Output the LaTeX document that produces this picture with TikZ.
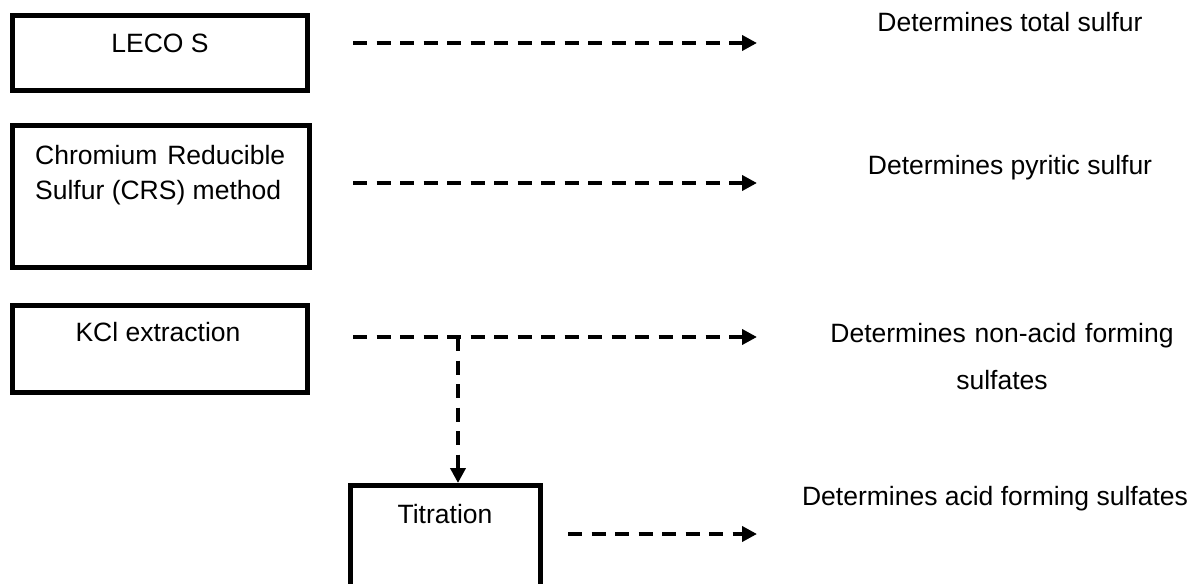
\documentclass[tikz,border=0pt]{standalone}
\usepackage{fontspec}
\setmainfont{Liberation Sans}
\usetikzlibrary{arrows.meta}
\tikzset{
  box/.style={draw, rectangle, line width=5bp, inner sep=0pt, outer sep=2.5bp},
  lbl/.style={inner sep=0pt, font=\fontsize{26.5bp}{35bp}\selectfont},
  flow/.style={line width=4bp, dash pattern=on 14bp off 9.5bp,
    -{Triangle[length=15bp,width=15bp]}},
  flowplain/.style={line width=4bp, dash pattern=on 14bp off 9.5bp}
}
\begin{document}
\begin{tikzpicture}[x=1bp,y=-1bp]
\clip (0,0) rectangle (1193,584);
\fill[white] (0,0) rectangle (1193,584);
% boxes
\node[box, minimum width=295bp, minimum height=75bp] (b1) at (160,53) {};
\node[box, minimum width=297bp, minimum height=142bp] (b2) at (161,196.5) {};
\node[box, minimum width=295bp, minimum height=87bp] (b3) at (160,349) {};
\node[box, minimum width=190bp, minimum height=164.5bp] (b4) at (445.5,567.75) {};
% box texts
\node[lbl, anchor=base] (t1) at (160,53) {LECO S};
\node[lbl, anchor=base west, text width=250bp, align=justify] (t2) at (35,165)
  {Chromium Reducible Sulfur (CRS) method};
\node[lbl, anchor=base] (t3) at (158,342) {KCl extraction};
\node[lbl, anchor=base] (t4) at (445,523) {Titration};
% right texts
\node[lbl, anchor=base] (r1) at (1010,32) {Determines total sulfur};
\node[lbl, anchor=base] (r2) at (1010,175) {Determines pyritic sulfur};
\node[lbl, anchor=base, text width=380bp, align=center,
  font=\fontsize{26.5bp}{46bp}\selectfont] (r3) at (1002,343)
  {Determines non-acid forming\\sulfates};
\node[lbl, anchor=base] (r4) at (995,505) {Determines acid forming sulfates};
% connector end points
\coordinate (a1s) at (353,43);  \coordinate (a1e) at (757,43);
\coordinate (a2s) at (353,183); \coordinate (a2e) at (757,183);
\coordinate (a3s) at (353,337); \coordinate (a3e) at (757,337);
\coordinate (j) at (458,337);
\coordinate (a4s) at (568,534); \coordinate (a4e) at (757,534);
% connectors
\draw[flow] (a1s) -- (a1e);
\draw[flow] (a2s) -- (a2e);
\draw[flow] (a3s) -- (a3e);
\draw[flow] (j) -- (j |- b4.north);
\draw[flow] (a4s) -- (a4e);
\end{tikzpicture}
\end{document}
